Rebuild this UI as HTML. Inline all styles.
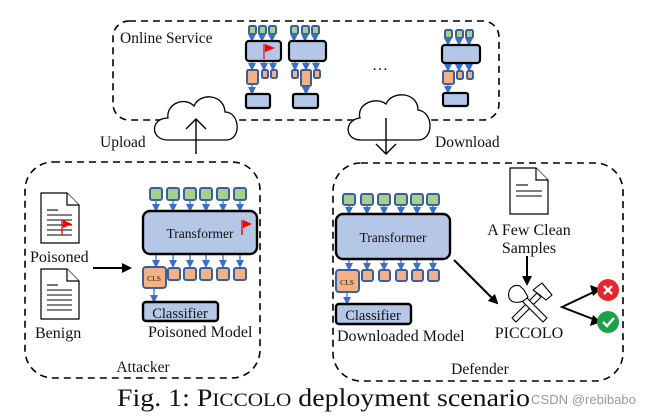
<!DOCTYPE html>
<html><head><meta charset="utf-8"><style>
html,body{margin:0;padding:0;background:#fff;}
svg{display:block;}
text{font-family:"Liberation Serif",serif;fill:#111;}
</style></head><body>
<svg width="652" height="416" viewBox="0 0 652 416" xmlns="http://www.w3.org/2000/svg">
<defs>
<marker id="ab" markerWidth="8" markerHeight="8" refX="6" refY="4" orient="auto" markerUnits="userSpaceOnUse"><path d="M0,0 L8,4 L0,8 Z" fill="#3a6fc8"/></marker>
<marker id="ak" markerWidth="10" markerHeight="10" refX="8" refY="5" orient="auto" markerUnits="userSpaceOnUse"><path d="M0,0 L10,5 L0,10 Z" fill="#000"/></marker>
</defs>
<rect x="113" y="21" width="386" height="99" rx="16" fill="none" stroke="#000" stroke-width="1.6" stroke-dasharray="7,5"/>
<rect x="25" y="162" width="235" height="216" rx="28" fill="none" stroke="#000" stroke-width="1.6" stroke-dasharray="7,5"/>
<rect x="333" y="163" width="290" height="218" rx="28" fill="none" stroke="#000" stroke-width="1.6" stroke-dasharray="7,5"/>

<text x="120" y="43" font-size="15.5">Online Service</text>

<g stroke-linejoin="round">
<g fill="#a8d08d" stroke="#3a5fa0" stroke-width="2">
<rect x="249" y="26" width="7" height="8" rx="1.5"/><rect x="259" y="26" width="7" height="8" rx="1.5"/><rect x="269" y="26" width="7" height="8" rx="1.5"/>
<rect x="291" y="26" width="7" height="8" rx="1.5"/><rect x="302" y="26" width="7" height="8" rx="1.5"/><rect x="312" y="26" width="7" height="8" rx="1.5"/>
<rect x="445" y="30" width="7" height="8" rx="1.5"/><rect x="456" y="30" width="7" height="8" rx="1.5"/><rect x="466" y="30" width="7" height="8" rx="1.5"/>
</g>
<g stroke="#3a6fc8" stroke-width="1.3" marker-end="url(#ab)">
<line x1="252" y1="34" x2="252" y2="40"/><line x1="262" y1="34" x2="262" y2="40"/><line x1="272" y1="34" x2="272" y2="40"/>
<line x1="294" y1="34" x2="294" y2="40"/><line x1="305" y1="34" x2="305" y2="40"/><line x1="315" y1="34" x2="315" y2="40"/>
<line x1="448" y1="38" x2="448" y2="44"/><line x1="459" y1="38" x2="459" y2="44"/><line x1="469" y1="38" x2="469" y2="44"/>
<line x1="252" y1="61" x2="252" y2="69"/><line x1="264" y1="61" x2="264" y2="69"/><line x1="273" y1="61" x2="273" y2="69"/>
<line x1="295" y1="61" x2="295" y2="69"/><line x1="306" y1="61" x2="306" y2="69"/><line x1="316" y1="61" x2="316" y2="69"/>
<line x1="448" y1="63" x2="448" y2="70"/><line x1="459" y1="63" x2="459" y2="70"/><line x1="469" y1="63" x2="469" y2="70"/>
<line x1="252" y1="85" x2="252" y2="93"/><line x1="306" y1="87" x2="306" y2="93"/><line x1="448" y1="84" x2="448" y2="92"/>
</g>
<g fill="#b4c7e7" stroke="#000" stroke-width="2.2">
<rect x="246" y="41" width="35" height="20" rx="3"/>
<rect x="289" y="41" width="37" height="20" rx="3"/>
<rect x="442" y="45" width="38" height="18" rx="3"/>
<rect x="246" y="94" width="24" height="14" rx="2"/>
<rect x="293" y="94" width="25" height="14" rx="2"/>
<rect x="443" y="93" width="25" height="13" rx="2"/>
</g>
<g fill="#f4b183" stroke="#3a5fa0" stroke-width="2">
<rect x="247" y="70" width="11" height="14" rx="1.5"/><rect x="262" y="70" width="6" height="8" rx="1.5"/><rect x="271" y="70" width="6" height="8" rx="1.5"/>
<rect x="292" y="70" width="6" height="8" rx="1.5"/><rect x="301" y="70" width="10" height="16" rx="1.5"/><rect x="314" y="70" width="6" height="8" rx="1.5"/>
<rect x="443" y="71" width="11" height="13" rx="1.5"/><rect x="457" y="71" width="6" height="8" rx="1.5"/><rect x="467" y="71" width="6" height="8" rx="1.5"/>
</g>
<line x1="264" y1="44" x2="264" y2="59" stroke="#e03030" stroke-width="1.5"/>
<path d="M265,44 L275,48 L265,52 Z" fill="#f00"/>
</g>
<text x="372" y="70" font-size="16">…</text>

<g fill="#fff" stroke="#000" stroke-width="1.3">
<path d="M168,140 C150,140 150,118 168,118 C166,104 184,96 194,106 C200,92 224,94 225,112 C240,112 242,140 226,140 Z"/>
<path d="M361,140 C344,140 344,120 360,118 C356,104 376,96 386,104 C392,90 418,92 418,110 C434,112 434,140 418,140 Z"/>
</g>
<line x1="196" y1="154" x2="196" y2="119" stroke="#000" stroke-width="1.4"/>
<path d="M186,129 L196,119 L206,129" fill="none" stroke="#000" stroke-width="1.4"/>
<line x1="386" y1="118" x2="386" y2="154" stroke="#000" stroke-width="1.4"/>
<path d="M376,144 L386,154 L396,144" fill="none" stroke="#000" stroke-width="1.4"/>
<text x="100" y="147" font-size="15.5">Upload</text>
<text x="435" y="147" font-size="15.5">Download</text>

<g fill="#fff" stroke="#000" stroke-width="1.2">
<path d="M41,193 L67,193 L79,205 L79,243 L41,243 Z"/><path d="M67,193 L67,205 L79,205"/>
<path d="M41,269 L67,269 L79,281 L79,319 L41,319 Z"/><path d="M67,269 L67,281 L79,281"/>
<path d="M510,168 L536,168 L548,180 L548,214 L510,214 Z"/><path d="M536,168 L536,180 L548,180"/>
</g>
<g stroke="#000" stroke-width="1.1">
<line x1="47" y1="210" x2="58" y2="210"/><line x1="47" y1="215" x2="72" y2="215"/><line x1="47" y1="220" x2="72" y2="220"/><line x1="47" y1="225" x2="72" y2="225"/><line x1="47" y1="230" x2="72" y2="230"/><line x1="47" y1="235" x2="72" y2="235"/>
<line x1="47" y1="285" x2="58" y2="285"/><line x1="47" y1="290" x2="72" y2="290"/><line x1="47" y1="295" x2="72" y2="295"/><line x1="47" y1="300" x2="72" y2="300"/><line x1="47" y1="305" x2="72" y2="305"/><line x1="47" y1="310" x2="72" y2="310"/>
<line x1="516" y1="185" x2="528" y2="185"/><line x1="516" y1="191" x2="542" y2="191"/><line x1="516" y1="196" x2="542" y2="196"/>
</g>
<line x1="62" y1="220" x2="62" y2="235" stroke="#f00" stroke-width="1.3"/>
<path d="M63,220 L72,224 L63,228 Z" fill="#f00"/>
<text x="30" y="262" font-size="16">Poisoned</text>
<text x="35" y="338" font-size="16">Benign</text>
<line x1="93" y1="268" x2="130" y2="268" stroke="#000" stroke-width="2" marker-end="url(#ak)"/>

<g fill="#a8d08d" stroke="#3a5fa0" stroke-width="2">
<rect x="150" y="188" width="12" height="12" rx="2"/><rect x="167" y="188" width="12" height="12" rx="2"/><rect x="184" y="188" width="12" height="12" rx="2"/><rect x="200" y="188" width="12" height="12" rx="2"/><rect x="217" y="188" width="12" height="12" rx="2"/><rect x="234" y="188" width="12" height="12" rx="2"/>
<rect x="343" y="194" width="12" height="11" rx="2"/><rect x="361" y="194" width="12" height="11" rx="2"/><rect x="378" y="194" width="12" height="11" rx="2"/><rect x="395" y="194" width="12" height="11" rx="2"/><rect x="411" y="194" width="12" height="11" rx="2"/><rect x="427" y="194" width="12" height="11" rx="2"/>
</g>
<g stroke="#3a6fc8" stroke-width="1.3" marker-end="url(#ab)">
<line x1="156" y1="200" x2="156" y2="210"/><line x1="173" y1="200" x2="173" y2="210"/><line x1="190" y1="200" x2="190" y2="210"/><line x1="206" y1="200" x2="206" y2="210"/><line x1="223" y1="200" x2="223" y2="210"/><line x1="240" y1="200" x2="240" y2="210"/>
<line x1="156" y1="254" x2="156" y2="266"/><line x1="173" y1="254" x2="173" y2="266"/><line x1="190" y1="254" x2="190" y2="266"/><line x1="206" y1="254" x2="206" y2="266"/><line x1="223" y1="254" x2="223" y2="266"/><line x1="240" y1="254" x2="240" y2="266"/>
<line x1="154" y1="288" x2="154" y2="301"/>
<line x1="349" y1="205" x2="349" y2="213"/><line x1="367" y1="205" x2="367" y2="213"/><line x1="384" y1="205" x2="384" y2="213"/><line x1="401" y1="205" x2="401" y2="213"/><line x1="417" y1="205" x2="417" y2="213"/><line x1="433" y1="205" x2="433" y2="213"/>
<line x1="349" y1="259" x2="349" y2="269"/><line x1="367" y1="259" x2="367" y2="269"/><line x1="384" y1="259" x2="384" y2="269"/><line x1="401" y1="259" x2="401" y2="269"/><line x1="417" y1="259" x2="417" y2="269"/><line x1="433" y1="259" x2="433" y2="269"/>
<line x1="347" y1="292" x2="347" y2="303"/>
</g>
<g fill="#b4c7e7" stroke="#000" stroke-width="2.4">
<rect x="143" y="211" width="114" height="43" rx="7"/>
<rect x="143" y="302" width="75" height="19" rx="3"/>
<rect x="336" y="214" width="114" height="45" rx="7"/>
<rect x="336" y="304" width="75" height="20" rx="3"/>
</g>
<g fill="#f4b183" stroke="#3a5fa0" stroke-width="2">
<rect x="143" y="267" width="23" height="21" rx="3"/>
<rect x="168" y="268" width="12" height="12" rx="2"/><rect x="184" y="268" width="12" height="12" rx="2"/><rect x="200" y="268" width="12" height="12" rx="2"/><rect x="217" y="268" width="12" height="12" rx="2"/><rect x="234" y="268" width="12" height="12" rx="2"/>
<rect x="336" y="270" width="23" height="22" rx="3"/>
<rect x="362" y="270" width="11" height="11" rx="2"/><rect x="379" y="270" width="11" height="11" rx="2"/><rect x="396" y="270" width="11" height="11" rx="2"/><rect x="412" y="270" width="11" height="11" rx="2"/><rect x="428" y="270" width="11" height="11" rx="2"/>
</g>
<line x1="242" y1="220" x2="242" y2="235" stroke="#f00" stroke-width="1.4"/>
<path d="M243,220 L252,224 L243,228 Z" fill="#f00"/>
<text x="200" y="238" font-size="13.5" text-anchor="middle">Transformer</text>
<text x="154" y="281" font-size="7.5" text-anchor="middle">CLS</text>
<text x="180" y="318" font-size="14.5" text-anchor="middle">Classifier</text>
<text x="148" y="337" font-size="16">Poisoned Model</text>
<text x="143" y="372" font-size="15.5" text-anchor="middle">Attacker</text>

<text x="393" y="242" font-size="13.5" text-anchor="middle">Transformer</text>
<text x="347" y="285" font-size="7.5" text-anchor="middle">CLS</text>
<text x="373" y="320" font-size="14.5" text-anchor="middle">Classifier</text>
<text x="337" y="341" font-size="16">Downloaded Model</text>
<text x="480" y="374" font-size="15.5" text-anchor="middle">Defender</text>

<text x="529" y="235" font-size="16" text-anchor="middle">A Few Clean</text>
<text x="529" y="253" font-size="16" text-anchor="middle">Samples</text>
<line x1="527" y1="256" x2="527" y2="284" stroke="#000" stroke-width="2" marker-end="url(#ak)"/>
<line x1="454" y1="260" x2="497" y2="303" stroke="#000" stroke-width="2" marker-end="url(#ak)"/>

<g fill="#fff" stroke="#000" stroke-width="1.1" stroke-linejoin="round">
<path d="M512,318 L537,293 L541,297 L516,322 Z"/>
<path d="M533,290 L542,283 L552,295 L546,300 L541,296 Z"/>
<path d="M547,318 L522,293 L518,297 L543,322 Z"/>
<path d="M509,298 C507,288 514,284 520,286 L524,290 L528,297 C522,304 512,304 509,298 Z"/>
</g>
<text x="529" y="338" font-size="16" text-anchor="middle">PICCOLO</text>

<path d="M598,290 L562,307 L598,321" fill="none" stroke="#000" stroke-width="2"/>
<path d="M590,285 L601,289 L593,296 Z" fill="#000"/>
<path d="M593,315 L601,322 L590,326 Z" fill="#000"/>
<circle cx="608" cy="290" r="11" fill="#e8252a"/>
<path d="M604,286 L612,294 M612,286 L604,294" stroke="#fff" stroke-width="2.4"/>
<circle cx="608" cy="322" r="11" fill="#1aa14a"/>
<path d="M603,322 L607,326 L614,318" fill="none" stroke="#fff" stroke-width="2.4"/>

<text x="117" y="406" font-size="25" textLength="413" lengthAdjust="spacingAndGlyphs">Fig. 1: P<tspan font-size="19">ICCOLO</tspan> deployment scenario</text>
<text x="531" y="404" font-size="13" textLength="105" lengthAdjust="spacingAndGlyphs" style="font-family:'Liberation Sans',sans-serif;fill:#999">CSDN @rebibabo</text>
</svg>
</body></html>
